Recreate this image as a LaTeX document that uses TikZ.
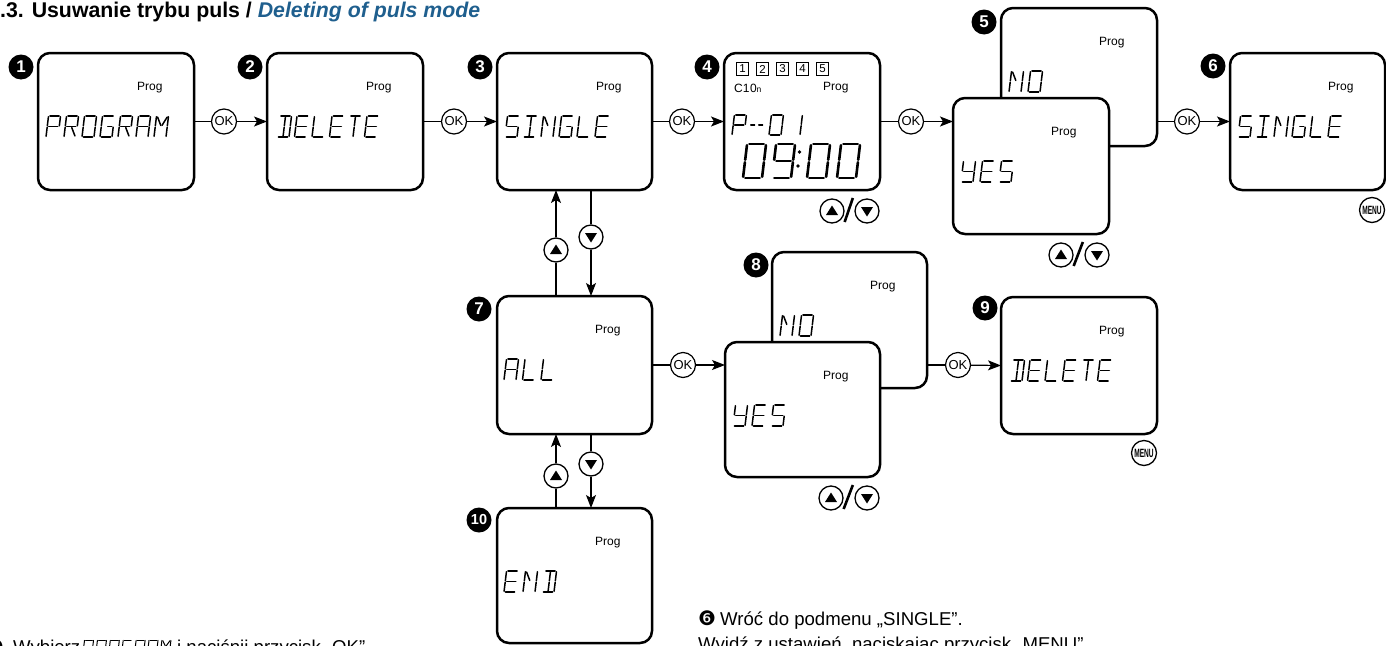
\documentclass[tikz,border=0pt]{standalone}
\usepackage{fontspec}
\setmainfont{Liberation Sans}
\newfontfamily\dejavu{DejaVu Sans}
\usetikzlibrary{arrows.meta,calc}
\definecolor{titleblue}{HTML}{1F5F8E}

% seven/fourteen-segment style glyph segments (cell: width 1, height 2)
\def\lcdsa{(0.12,2)--(0.88,2)}
\def\lcdsb{(1,1.07)--(1,1.93)}
\def\lcdsc{(1,0.07)--(1,0.93)}
\def\lcdsd{(0.12,0)--(0.88,0)}
\def\lcdse{(0,0.07)--(0,0.93)}
\def\lcdsf{(0,1.07)--(0,1.93)}
\def\lcdsg{(0.12,1)--(0.88,1)}
\def\lcdsh{(0.55,1)--(0.88,1)}
\def\lcdsi{(0.5,1.07)--(0.5,1.93)}
\def\lcdsj{(0.5,0.07)--(0.5,0.93)}
\def\lcdsk{(0.1,1.9)--(0.45,1.1)}
\def\lcdsl{(0.9,1.9)--(0.55,1.1)}
\def\lcdsm{(0.55,0.9)--(0.9,0.1)}
\newcommand\lcdglyph[2]{\expandafter\def\csname lcdg#1\endcsname{#2}}
\lcdglyph{P}{a,b,e,f,g}
\lcdglyph{R}{a,b,e,f,g,m}
\lcdglyph{O}{a,b,c,d,e,f}
\lcdglyph{0}{a,b,c,d,e,f}
\lcdglyph{G}{a,c,d,e,f,h}
\lcdglyph{A}{a,b,c,e,f,g}
\lcdglyph{M}{b,c,e,f,k,l}
\lcdglyph{D}{a,b,c,d,i,j}
\lcdglyph{E}{a,d,e,f,g}
\lcdglyph{L}{d,e,f}
\lcdglyph{T}{a,i,j}
\lcdglyph{S}{a,c,d,f,g}
\lcdglyph{I}{a,d,i,j}
\lcdglyph{N}{b,c,e,f,k}
\lcdglyph{Y}{b,c,d,f,g}
\lcdglyph{1}{b,c}
\lcdglyph{9}{a,b,c,d,f,g}
\lcdglyph{-}{g}

\newcommand\lcdtext[7][1.5pt]{%
  \pgfmathsetmacro\lcdslant{0.06*#5}%
  \pgfmathsetmacro\lcdhh{#5/2}%
  \foreach \g [count=\k from 0] in {#7}{%
    \pgfmathsetmacro\lcdx{#2+\k*#6}%
    \begin{scope}[shift={(\lcdx,#3)}, x={(#4pt,0pt)}, y={(\lcdslant pt,\lcdhh pt)}]
      \edef\lcdsegs{\csname lcdg\g\endcsname}%
      \foreach \s in \lcdsegs {\edef\lcdtmp{\noexpand\draw[lcdline,line width=#1] \csname lcds\s\endcsname;}\lcdtmp}
    \end{scope}}}

\newcommand\uptri[1]{\fill ($(#1)+(-6,4)$) -- ($(#1)+(6,4)$) -- ($(#1)+(0,-5.5)$) -- cycle;}
\newcommand\dntri[1]{\fill ($(#1)+(-6,-4)$) -- ($(#1)+(6,-4)$) -- ($(#1)+(0,5.5)$) -- cycle;}

\tikzset{
 lcdbox/.style={draw, line width=2.5pt, rounded corners=12pt, fill=white, minimum width=156pt, minimum height=137pt, inner sep=0pt, outer sep=0pt},
 badge/.style={circle, fill=black, text=white, font=\bfseries\fontsize{17}{17}\selectfont, minimum size=25pt, inner sep=0pt},
 okbtn/.style={circle, draw, line width=1.2pt, fill=white, minimum size=25pt, inner sep=0pt, font=\fontsize{13}{13}\selectfont},
 arrbtn/.style={circle, draw, line width=1.3pt, fill=white, minimum size=24pt, inner sep=0pt},
 menubtn/.style={circle, draw, line width=1.3pt, minimum size=25pt, inner sep=0pt, font=\bfseries\fontsize{12}{12}\selectfont},
 conn/.style={line width=1.2pt},
 arr/.style={line width=1.2pt, -{Stealth[length=13pt,width=10pt,inset=3pt]}},
 proglbl/.style={anchor=base west, inner sep=0pt, font=\fontsize{12}{12}\selectfont},
 lcdline/.style={line cap=round},
 slash/.style={line width=2.6pt},
 numbox/.style={draw, line width=0.9pt, minimum size=12.5pt, inner sep=0pt, font=\fontsize{11.5}{11.5}\selectfont},
 txt/.style={anchor=base west, inner sep=0pt, font=\fontsize{18.6}{20}\selectfont},
}

\begin{document}
\begin{tikzpicture}[x=1pt,y=-1pt]
\useasboundingbox (0,0) rectangle (1386,645);
\clip (0,0) rectangle (1386,645);

% title
\node[anchor=base west, inner sep=0pt, font=\bfseries\fontsize{21.3}{24}\selectfont] (title) at (0,17) {.3. Usuwanie trybu puls / \textcolor{titleblue}{\itshape Deleting of puls mode}};

% boxes
\node[lcdbox] (B1) at (116,121.5) {};
\node[lcdbox] (B2) at (345,121.5) {};
\node[lcdbox, minimum width=155pt] (B3) at (574.5,121.5) {};
\node[lcdbox] (B4) at (802,121.5) {};
\node[lcdbox, minimum height=138pt] (B5b) at (1079,77) {};
\node[proglbl] (p5b) at ($(B5b.north west)+(98,37)$) {Prog};
\lcdtext{1009}{92}{12}{21}{19}{N,O}
\node[lcdbox, minimum height=136pt] (B5f) at (1031,166) {};
\node[lcdbox, minimum width=155pt] (B6) at (1307.5,121.5) {};
\node[lcdbox, minimum width=155pt, minimum height=138pt] (B7) at (574.5,365) {};
\node[lcdbox, minimum width=155pt, minimum height=136pt] (B8b) at (849.5,320) {};
\node[proglbl] (p8b) at ($(B8b.north west)+(98,37)$) {Prog};
\lcdtext{780}{336}{12}{21}{19}{N,O}
\node[lcdbox, minimum width=155pt, minimum height=135pt] (B8f) at (802.5,409.5) {};
\node[lcdbox] (B9) at (1079,365.5) {};
\node[lcdbox, minimum width=155pt, minimum height=135pt] (B10) at (574.5,575.5) {};

% Prog labels
\node[proglbl] (p1) at ($(B1.north west)+(99,37)$) {Prog};
\node[proglbl] (p2) at ($(B2.north west)+(99,37)$) {Prog};
\node[proglbl] (p3) at ($(B3.north west)+(99,37)$) {Prog};
\node[proglbl] (p4) at ($(B4.north west)+(99,37)$) {Prog};
\node[proglbl] (p5f) at ($(B5f.north west)+(98,37)$) {Prog};
\node[proglbl] (p6) at ($(B6.north west)+(98,37)$) {Prog};
\node[proglbl] (p7) at ($(B7.north west)+(98,37)$) {Prog};
\node[proglbl] (p8f) at ($(B8f.north west)+(98,37)$) {Prog};
\node[proglbl] (p9) at ($(B9.north west)+(98,37)$) {Prog};
\node[proglbl] (p10) at ($(B10.north west)+(98,37)$) {Prog};

% badges
\node[badge] (n1) at ($(B1.north west)+(-17,14)$) {1};
\node[badge] (n2) at ($(B2.north west)+(-17,14)$) {2};
\node[badge] (n3) at ($(B3.north west)+(-17,14)$) {3};
\node[badge] (n4) at ($(B4.north west)+(-17,14)$) {4};
\node[badge] (n5) at ($(B5b.north west)+(-17,14)$) {5};
\node[badge] (n6) at ($(B6.north west)+(-17,13)$) {6};
\node[badge] (n7) at ($(B7.north west)+(-18,13)$) {7};
\node[badge] (n8) at ($(B8b.north west)+(-16,13)$) {8};
\node[badge] (n9) at ($(B9.north west)+(-16,11)$) {9};
\node[badge, font=\bfseries\fontsize{14.5}{14.5}\selectfont] (n10) at ($(B10.north west)+(-18,12)$) {10};

% LCD texts
\lcdtext{46}{137}{12}{21}{18}{P,R,O,G,R,A,M}
\lcdtext{277}{137}{12}{21}{17.5}{D,E,L,E,T,E}
\lcdtext{505}{137}{12}{21}{18}{S,I,N,G,L,E}
\lcdtext{961}{182}{12}{21}{19}{Y,E,S}
\lcdtext{1238}{137}{12}{21}{18}{S,I,N,G,L,E}
\lcdtext{504}{380}{12}{21}{18.5}{A,L,L}
\lcdtext{733}{426}{12}{21}{19}{Y,E,S}
\lcdtext{1010}{381}{12}{21}{17.5}{D,E,L,E,T,E}
\lcdtext{504}{592}{12}{21}{19}{E,N,D}

% box 4 details
\node[numbox] (q1) at (742.5,69) {1};
\node[numbox] (q2) at (762.5,69) {2};
\node[numbox] (q3) at (782.5,69) {3};
\node[numbox] (q4) at (802.5,69) {4};
\node[numbox] (q5) at (822.5,69) {5};
\node[anchor=base west, inner sep=0pt, font=\fontsize{12}{12}\selectfont] (c10) at (734,92) {C1\kern0.5pt0{\fontsize{8.5}{8.5}\selectfont n}};
\lcdtext{732}{135}{12}{20}{18}{P}
\lcdtext{749}{135}{5}{20}{8}{-,-}
\lcdtext{769}{135}{12}{20}{18}{0}
\lcdtext{788}{135}{12}{20}{18}{1}
\lcdtext[2.6pt]{743}{178}{19}{34}{29}{0,9}
\lcdtext[2.6pt]{807}{178}{19}{34}{30}{0,0}
\fill (799.5,152) circle (1.8);
\fill (798,166) circle (1.8);

% OK buttons and connectors
\node[okbtn] (ok1) at (224,121.5) {OK};
\node[okbtn] (ok2) at (454,121.5) {OK};
\node[okbtn] (ok3) at (682,121.5) {OK};
\node[okbtn] (ok4) at (911,121.5) {OK};
\node[okbtn] (ok5) at (1187,121.5) {OK};
\node[okbtn] (ok6) at (683,365) {OK};
\node[okbtn] (ok7) at (958,365) {OK};
\draw[conn] (B1.east) -- (ok1); \draw[arr] (ok1) -- (B2.west);
\draw[conn] (B2.east) -- (ok2); \draw[arr] (ok2) -- (B3.west);
\draw[conn] (B3.east) -- (ok3); \draw[arr] (ok3) -- (B4.west);
\draw[conn] (B4.east) -- (ok4); \draw[arr] (ok4) -- (ok4 -| B5f.west);
\draw[conn] (ok5 -| B5b.east) -- (ok5); \draw[arr] (ok5) -- (B6.west);
\draw[conn] (B7.east) -- (ok6); \draw[arr] (ok6) -- (ok6 -| B8f.west);
\draw[conn] (ok7 -| B8b.east) -- (ok7); \draw[arr] (ok7) -- (B9.west);

% vertical navigation
\node[arrbtn] (up1) at (556,250) {};
\node[arrbtn] (dn1) at (591,237) {};
\node[arrbtn] (up2) at (556,476) {};
\node[arrbtn] (dn2) at (591,464) {};
\uptri{up1} \dntri{dn1} \uptri{up2} \dntri{dn2}
\draw[conn] (up1 |- B7.north) -- (up1); \draw[arr] (up1) -- (up1 |- B3.south);
\draw[conn] (dn1 |- B3.south) -- (dn1); \draw[arr] (dn1) -- (dn1 |- B7.north);
\draw[conn] (up2 |- B10.north) -- (up2); \draw[arr] (up2) -- (up2 |- B7.south);
\draw[conn] (dn2 |- B7.south) -- (dn2); \draw[arr] (dn2) -- (dn2 |- B10.north);

% up/down pairs
\node[arrbtn] (upA) at (832,211) {};
\node[arrbtn] (dnA) at (867,211) {};
\node[arrbtn] (upB) at (1061,255) {};
\node[arrbtn] (dnB) at (1097,255) {};
\node[arrbtn] (upC) at (831,498) {};
\node[arrbtn] (dnC) at (867,498) {};
\uptri{upA} \dntri{dnA} \uptri{upB} \dntri{dnB} \uptri{upC} \dntri{dnC}
\draw[slash] ($(upA.east)+(0,11)$) -- ($(dnA.west)+(-1.5,-13)$);
\draw[slash] ($(upB.east)+(0,11)$) -- ($(dnB.west)+(-1.5,-13)$);
\draw[slash] ($(upC.east)+(0,11)$) -- ($(dnC.west)+(-1.5,-13)$);

% MENU buttons
\node[menubtn] (m1) at (1372,210) {\scalebox{0.55}[1]{MENU}};
\node[menubtn] (m2) at (1144,453) {\scalebox{0.55}[1]{MENU}};

% bottom texts
\node[anchor=base east, inner sep=0pt, font=\dejavu\fontsize{19}{19}\selectfont] (t1n) at (4,653) {❶};
\node[txt] (t1a) at (13,653) {Wybierz};
\lcdtext[1pt]{83}{653}{9}{13}{12.9}{P,R,O,G,R,A,M}
\node[txt] (t1b) at (177,653) {i naciśnij przycisk „OK”.};
\node[anchor=base west, inner sep=0pt, font=\dejavu\fontsize{20}{20}\selectfont] (t6n) at (698,625) {❻};
\node[txt] (t6a) at (720,625) {Wróć do podmenu „SINGLE”.};
\node[txt] (t6b) at (698,650) {Wyjdź z ustawień, naciskając przycisk „MENU”.};
\end{tikzpicture}
\end{document}
